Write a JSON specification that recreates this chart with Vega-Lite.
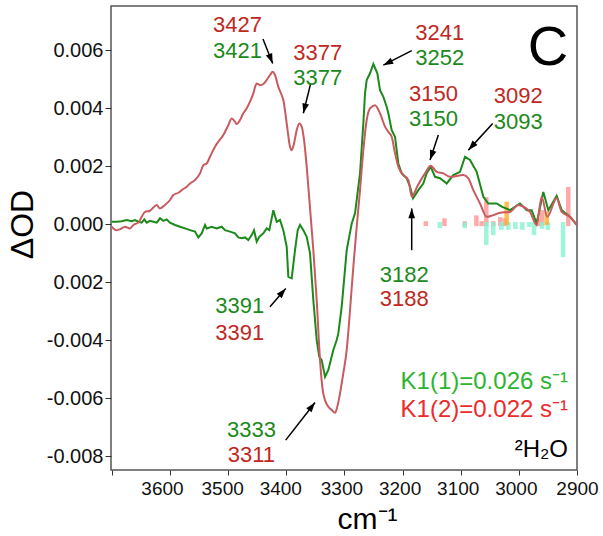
{
  "$schema": "https://vega.github.io/schema/vega-lite/v6.json",
  "width": 466,
  "height": 464,
  "autosize": {"type": "none"},
  "padding": {"left": 111, "top": 6, "right": 26, "bottom": 66},
  "background": "white",
  "config": {
    "view": {"stroke": "#555555", "strokeWidth": 1.5},
    "font": "Liberation Sans",
    "text": {"font": "Liberation Sans"}
  },
  "datasets": {
    "red": [
      {"wn":3700.3,"od":-0.00009},{"wn":3691.8,"od":-0.00021},{"wn":3686,"od":-0.00018},{"wn":3677.4,"od":-0.00009},{"wn":3668.8,"od":-0.00015},{"wn":3663.1,"od":-0.00003},{"wn":3654.5,"od":0.00005},{"wn":3648.7,"od":0.00025},{"wn":3643,"od":0.00042},{"wn":3634.4,"od":0.00046},{"wn":3628.7,"od":0.00057},{"wn":3622.9,"od":0.00066},{"wn":3617.2,"od":0.00054},{"wn":3608.6,"od":0.00066},{"wn":3600,"od":0.00083},{"wn":3594.3,"od":0.001},{"wn":3585.7,"od":0.00108},{"wn":3579.9,"od":0.00117},{"wn":3571.3,"od":0.00129},{"wn":3565.6,"od":0.0014},{"wn":3557,"od":0.00152},{"wn":3548.4,"od":0.00175},{"wn":3542.7,"od":0.00203},{"wn":3536.9,"od":0.00209},{"wn":3531.2,"od":0.00232},{"wn":3522.6,"od":0.00267},{"wn":3516.9,"od":0.00284},{"wn":3508.3,"od":0.00307},{"wn":3499.7,"od":0.00341},{"wn":3493.9,"od":0.00364},{"wn":3488.2,"od":0.00353},{"wn":3485.3,"od":0.00345},{"wn":3479.6,"od":0.00359},{"wn":3473.9,"od":0.00382},{"wn":3468.1,"od":0.00399},{"wn":3462.4,"od":0.00422},{"wn":3456.7,"od":0.00451},{"wn":3450.9,"od":0.00485},{"wn":3445.2,"od":0.00479},{"wn":3439.5,"od":0.00483},{"wn":3433.7,"od":0.00497},{"wn":3428,"od":0.00514},{"wn":3423.4,"od":0.00525},{"wn":3419.4,"od":0.00514},{"wn":3413.7,"od":0.00473},{"wn":3408,"od":0.00445},{"wn":3405.1,"od":0.00428},{"wn":3399.3,"od":0.00347},{"wn":3393.6,"od":0.00267},{"wn":3390.7,"od":0.00255},{"wn":3386.7,"od":0.00278},{"wn":3382.1,"od":0.00324},{"wn":3377.6,"od":0.00347},{"wn":3373.5,"od":0.00336},{"wn":3369.5,"od":0.0029},{"wn":3364.9,"od":0.00198},{"wn":3359.2,"od":0.00055},{"wn":3353.5,"od":-0.0009},{"wn":3347.7,"od":-0.00262},{"wn":3342,"od":-0.00469},{"wn":3337.4,"od":-0.00572},{"wn":3333.4,"od":-0.00607},{"wn":3327.7,"od":-0.0063},{"wn":3321.9,"od":-0.00641},{"wn":3316.2,"od":-0.00651},{"wn":3312.3,"od":-0.0063},{"wn":3307.6,"od":-0.00584},{"wn":3302,"od":-0.00515},{"wn":3296.1,"od":-0.00434},{"wn":3290.4,"od":-0.00297},{"wn":3284.7,"od":-0.00147},{"wn":3278.9,"od":-0.00009},{"wn":3273.2,"od":0.00117},{"wn":3267.5,"od":0.00255},{"wn":3261.7,"od":0.00359},{"wn":3256,"od":0.00399},{"wn":3247.4,"od":0.0041},{"wn":3238.8,"od":0.00382},{"wn":3230.2,"od":0.00336},{"wn":3224.5,"od":0.00318},{"wn":3218.7,"od":0.00301},{"wn":3213,"od":0.00244},{"wn":3207.3,"od":0.00198},{"wn":3198.7,"od":0.00169},{"wn":3190.1,"od":0.00152},{"wn":3184,"od":0.00094},{"wn":3175,"od":0.00129},{"wn":3161.4,"od":0.00175},{"wn":3151.6,"od":0.00201},{"wn":3141.3,"od":0.0018},{"wn":3129.9,"od":0.00175},{"wn":3118.4,"od":0.00163},{"wn":3095.5,"od":0.00169},{"wn":3086.9,"od":0.00158},{"wn":3078.3,"od":0.00117},{"wn":3066.8,"od":0.00071},{"wn":3055.3,"od":0.00025},{"wn":3043.9,"od":0.00031},{"wn":3032.4,"od":0.00039},{"wn":3015.2,"od":0.00042},{"wn":3001,"od":0.00066},{"wn":2992.4,"od":0.0006},{"wn":2980.9,"od":0.00042},{"wn":2969.4,"od":-0.00003},{"wn":2960.8,"od":0.00094},{"wn":2951.1,"od":0.00025},{"wn":2935,"od":0.00089},{"wn":2926.3,"od":0.00042},{"wn":2912,"od":0.00025},{"wn":2900.5,"od":-0.00003}
    ],
    "green": [
      {"wn":3700.3,"od":0.00008},{"wn":3691.7,"od":0.00008},{"wn":3683.1,"od":0.0001},{"wn":3674.5,"od":0.00014},{"wn":3665.9,"od":0.0001},{"wn":3660.2,"od":0.00014},{"wn":3654.5,"od":0.00008},{"wn":3648.7,"od":0.00005},{"wn":3644.2,"od":0.00016},{"wn":3640.1,"od":0.00005},{"wn":3634.4,"od":0.00011},{"wn":3628.7,"od":0.00008},{"wn":3622.9,"od":0.00005},{"wn":3617.2,"od":0.0002},{"wn":3611.5,"od":0.00011},{"wn":3605.7,"od":0.00016},{"wn":3600,"od":0.00005},{"wn":3591.4,"od":-0.00003},{"wn":3582.8,"od":-0.00009},{"wn":3574.2,"od":-0.00015},{"wn":3565.6,"od":-0.00021},{"wn":3557,"od":-0.00026},{"wn":3551.3,"od":-0.00046},{"wn":3545.5,"od":-0.00032},{"wn":3539.8,"od":-0.00003},{"wn":3536.9,"od":-0.00015},{"wn":3528.3,"od":-0.00009},{"wn":3519.7,"od":-0.00015},{"wn":3511.1,"od":-0.00009},{"wn":3505.4,"od":-0.00021},{"wn":3496.8,"od":-0.00026},{"wn":3488.2,"od":-0.00032},{"wn":3482.5,"od":-0.00046},{"wn":3476.7,"od":-0.00049},{"wn":3471,"od":-0.00046},{"wn":3465.3,"od":-0.00055},{"wn":3459.5,"od":-0.00038},{"wn":3455.5,"od":-0.00021},{"wn":3450.9,"od":-0.00061},{"wn":3446.4,"od":-0.00044},{"wn":3439.5,"od":-0.00032},{"wn":3433.7,"od":-0.00015},{"wn":3429.2,"od":-0.00021},{"wn":3422.3,"od":0.00048},{"wn":3416.5,"od":0.00008},{"wn":3410.8,"od":0.00014},{"wn":3405.1,"od":-0.00021},{"wn":3399.3,"od":-0.00078},{"wn":3396.5,"od":-0.00182},{"wn":3390.7,"od":-0.00187},{"wn":3385,"od":-0.0009},{"wn":3380.4,"od":-0.00021},{"wn":3376.4,"od":-0.00003},{"wn":3370.7,"od":-0.00021},{"wn":3364.9,"od":-0.00044},{"wn":3359.2,"od":-0.00101},{"wn":3353.5,"od":-0.00262},{"wn":3347.7,"od":-0.004},{"wn":3343.3,"od":-0.00458},{"wn":3339.1,"od":-0.00469},{"wn":3333.4,"od":-0.00527},{"wn":3327.7,"od":-0.00503},{"wn":3324.8,"od":-0.0048},{"wn":3319.1,"od":-0.00434},{"wn":3313.3,"od":-0.004},{"wn":3310.5,"od":-0.00377},{"wn":3304.7,"od":-0.00285},{"wn":3296.1,"od":-0.0009},{"wn":3287.5,"od":0.00002},{"wn":3281.8,"od":0.00037},{"wn":3273.2,"od":0.00175},{"wn":3267.5,"od":0.00347},{"wn":3264.6,"od":0.00451},{"wn":3261.7,"od":0.00497},{"wn":3256,"od":0.0052},{"wn":3250.3,"od":0.00552},{"wn":3243.4,"od":0.0052},{"wn":3238.8,"od":0.00462},{"wn":3233.1,"od":0.00439},{"wn":3227.3,"od":0.00404},{"wn":3224.5,"od":0.00382},{"wn":3218.7,"od":0.00324},{"wn":3213,"od":0.00301},{"wn":3207.3,"od":0.00209},{"wn":3201.5,"od":0.00175},{"wn":3192.9,"od":0.00158},{"wn":3187.2,"od":0.00129},{"wn":3182,"od":0.00089},{"wn":3172.9,"od":0.00117},{"wn":3164.4,"od":0.0014},{"wn":3158.6,"od":0.00175},{"wn":3151.6,"od":0.00198},{"wn":3144.2,"od":0.00163},{"wn":3135.6,"od":0.00158},{"wn":3124.1,"od":0.0014},{"wn":3112.7,"od":0.00169},{"wn":3101.2,"od":0.0018},{"wn":3092.6,"od":0.00232},{"wn":3084,"od":0.00221},{"wn":3072.5,"od":0.0018},{"wn":3061.1,"od":0.00094},{"wn":3052.5,"od":0.00071},{"wn":3038.1,"od":0.00071},{"wn":3029.5,"od":0.0006},{"wn":3015.2,"od":0.00048},{"wn":2998,"od":0.00071},{"wn":2986.5,"od":0.00048},{"wn":2977.9,"od":0.00048},{"wn":2969.4,"od":0.00002},{"wn":2957.9,"od":0.00111},{"wn":2949.3,"od":0.00048},{"wn":2935,"od":0.00097},{"wn":2926.3,"od":0.00048},{"wn":2912,"od":0.00025},{"wn":2900.5,"od":-0.00003}
    ],
    "bars": [
      {"wn":3160,"od":0.0001,"od2":-0.00007,"kind":"pink"},
      {"wn":3128,"od":0.0002,"od2":-0.00007,"kind":"pink"},
      {"wn":3093,"od":0.0001,"od2":-0.00007,"kind":"pink"},
      {"wn":3073,"od":0.0003,"od2":-0.00007,"kind":"pink"},
      {"wn":3064,"od":0.0001,"od2":-0.00007,"kind":"pink"},
      {"wn":3056,"od":0.00093,"od2":-0.00007,"kind":"pink"},
      {"wn":3044,"od":0.0001,"od2":-0.00007,"kind":"pink"},
      {"wn":3032,"od":0.00024,"od2":-0.00007,"kind":"pink"},
      {"wn":3024,"od":0.0002,"od2":-0.00007,"kind":"pink"},
      {"wn":2967,"od":0.0002,"od2":-0.00007,"kind":"pink"},
      {"wn":2960,"od":0.00048,"od2":-0.00007,"kind":"pink"},
      {"wn":2915,"od":0.00128,"od2":-0.00007,"kind":"pink"},
      {"wn":3136,"od":-0.00014,"od2":0.00007,"kind":"mint"},
      {"wn":3093,"od":-0.00014,"od2":0.00007,"kind":"mint"},
      {"wn":3056,"od":-0.00072,"od2":0.00007,"kind":"mint"},
      {"wn":3044,"od":-0.00038,"od2":0.00007,"kind":"mint"},
      {"wn":3030,"od":-0.0002,"od2":0.00007,"kind":"mint"},
      {"wn":3018,"od":-0.0002,"od2":0.00007,"kind":"mint"},
      {"wn":3006,"od":-0.00017,"od2":0.00007,"kind":"mint"},
      {"wn":2994,"od":-0.0002,"od2":0.00007,"kind":"mint"},
      {"wn":2982,"od":-0.0001,"od2":0.00007,"kind":"mint"},
      {"wn":2974,"od":-0.00038,"od2":0.00007,"kind":"mint"},
      {"wn":2960,"od":-0.00017,"od2":0.00007,"kind":"mint"},
      {"wn":2950,"od":-0.0002,"od2":0.00007,"kind":"mint"},
      {"wn":2924,"od":-0.00114,"od2":0.00007,"kind":"mint"},
      {"wn":3021,"od":0.00077,"od2":-0.00003,"kind":"orange"},
      {"wn":2952,"od":0.00042,"od2":-0.00003,"kind":"orange"}
    ],
    "arrows": [
      {"wn":3440.1,"od":0.00638,"wn2":3423.4,"od2":0.00554},
      {"wn":3358,"od":0.00485,"wn2":3370.7,"od2":0.00382},
      {"wn":3184.3,"od":0.00598,"wn2":3233.1,"od2":0.00548},
      {"wn":3138.5,"od":0.00307,"wn2":3152.8,"od2":0.00221},
      {"wn":3045,"od":0.00347,"wn2":3086.9,"od2":0.00255},
      {"wn":3184.3,"od":-0.0009,"wn2":3184.3,"od2":0.00054},
      {"wn":3428,"od":-0.00285,"wn2":3401,"od2":-0.00222},
      {"wn":3401,"od":-0.00745,"wn2":3350.6,"od2":-0.00615}
    ],
    "labels": [
      {"wn":3484,"od":0.00688,"text":"3427","col":"r","kind":"peak"},
      {"wn":3484,"od":0.00598,"text":"3421","col":"g","kind":"peak"},
      {"wn":3346,"od":0.00591,"text":"3377","col":"r","kind":"peak"},
      {"wn":3346,"od":0.00505,"text":"3377","col":"g","kind":"peak"},
      {"wn":3136,"od":0.0066,"text":"3241","col":"r","kind":"peak"},
      {"wn":3136,"od":0.00574,"text":"3252","col":"g","kind":"peak"},
      {"wn":3147,"od":0.0045,"text":"3150","col":"r","kind":"peak"},
      {"wn":3147,"od":0.00364,"text":"3150","col":"g","kind":"peak"},
      {"wn":3001,"od":0.0044,"text":"3092","col":"r","kind":"peak"},
      {"wn":3001,"od":0.00353,"text":"3093","col":"g","kind":"peak"},
      {"wn":3197,"od":-0.00174,"text":"3182","col":"g","kind":"peak"},
      {"wn":3197,"od":-0.0026,"text":"3188","col":"r","kind":"peak"},
      {"wn":3480,"od":-0.00284,"text":"3391","col":"g","kind":"peak"},
      {"wn":3480,"od":-0.00374,"text":"3391","col":"r","kind":"peak"},
      {"wn":3460,"od":-0.00709,"text":"3333","col":"g","kind":"peak"},
      {"wn":3460,"od":-0.00797,"text":"3311","col":"r","kind":"peak"},
      {"wn":2915.5,"od":-0.00543,"text":"K1(1)=0.026 s⁻¹","col":"kg","kind":"note"},
      {"wn":2915.5,"od":-0.00641,"text":"K1(2)=0.022 s⁻¹","col":"kr","kind":"note"},
      {"wn":2915.5,"od":-0.00779,"text":"²H₂O","col":"k","kind":"note"},
      {"wn":2950,"od":0.00607,"text":"C","col":"k","kind":"panel"}
    ]
  },
  "encoding": {
    "x": {
      "field": "wn", "type": "quantitative",
      "scale": {"domain": [2900, 3701.5], "reverse": true, "nice": false, "zero": false},
      "axis": {
        "title": "cm⁻¹",
        "values": [3700, 3600, 3500, 3400, 3300, 3200, 3100, 3000, 2900],
        "labelExpr": "datum.value > 3650 ? '' : format(datum.value, 'd')",
        "labelOverlap": false, "labelBound": false, "labelFlush": false,
        "labelFontSize": 19, "labelColor": "#111111", "labelFont": "Liberation Sans",
        "tickSize": 5, "tickColor": "#333333", "labelPadding": 4,
        "labelOffset": {"condition": [{"test": "datum.value > 3550", "value": -8}, {"test": "datum.value > 3350", "value": -6}, {"test": "datum.value > 2950", "value": -3}], "value": 0},
        "domain": false, "grid": false,
        "titleFont": "Liberation Sans", "titleFontSize": 30, "titleFontWeight": "normal", "titleColor": "#000000",
        "titleX": 256, "titleY": 58, "titleAlign": "center", "titleBaseline": "alphabetic"
      }
    },
    "y": {
      "field": "od", "type": "quantitative",
      "scale": {"domain": [-0.00848, 0.00752], "nice": false, "zero": false},
      "axis": {
        "title": "ΔOD",
        "values": [-0.008, -0.006, -0.004, -0.002, 0, 0.002, 0.004, 0.006],
        "labelExpr": "datum.value < -0.0015 && datum.value > -0.0025 ? '0.002' : (datum.value < -0.0001 ? '-' : '') + format(abs(datum.value), '.3f')",
        "labelOverlap": false,
        "labelFontSize": 20, "labelColor": "#111111", "labelFont": "Liberation Sans",
        "tickSize": 6, "tickColor": "#333333", "labelPadding": 2,
        "domain": false, "grid": false,
        "titleFont": "Liberation Sans", "titleFontSize": 32, "titleFontWeight": "normal", "titleColor": "#000000",
        "titleX": -89, "titleY": 218, "titleAngle": -90, "titleAlign": "center", "titleBaseline": "middle"
      }
    }
  },
  "layer": [
    {
      "data": {"name": "bars"},
      "mark": {"type": "rule", "strokeWidth": 4.5, "opacity": 0.8},
      "encoding": {
        "y2": {"field": "od2"},
        "color": {"field": "kind", "type": "nominal", "legend": null,
          "scale": {"domain": ["pink", "mint", "orange"], "range": ["#ff9393", "#86f2cf", "#ffad2a"]}}
      }
    },
    {
      "data": {"name": "green"},
      "mark": {"type": "line", "color": "#1b8a1b", "strokeWidth": 2},
      "encoding": {}
    },
    {
      "data": {"name": "red"},
      "mark": {"type": "line", "color": "#c95a5f", "strokeWidth": 2, "interpolate": "monotone"},
      "encoding": {}
    },
    {
      "data": {"name": "arrows"},
      "mark": {"type": "rule", "color": "#000000", "strokeWidth": 1.5},
      "encoding": {"x2": {"field": "wn2"}, "y2": {"field": "od2"}}
    },
    {
      "data": {"name": "arrows"},
      "transform": [{"calculate": "atan2((datum.wn - datum.wn2) * 0.5814, (datum.od2 - datum.od) * 29000) * 180 / PI", "as": "ang"}],
      "mark": {"type": "point", "shape": "M0,0L0.75,2.2L-0.75,2.2Z", "filled": true, "color": "#000000", "opacity": 1, "size": 81, "strokeWidth": 0},
      "encoding": {
        "x": {"field": "wn2", "type": "quantitative"},
        "y": {"field": "od2", "type": "quantitative"},
        "angle": {"field": "ang", "type": "quantitative", "scale": null}
      }
    },
    {
      "data": {"name": "labels"},
      "transform": [{"filter": "datum.kind == 'peak'"}],
      "mark": {"type": "text", "fontSize": 22, "align": "center", "baseline": "middle", "font": "Liberation Sans"},
      "encoding": {
        "text": {"field": "text"},
        "color": {"field": "col", "type": "nominal", "legend": null,
          "scale": {"domain": ["r", "g"], "range": ["#c0281e", "#1b8a1b"]}}
      }
    },
    {
      "data": {"name": "labels"},
      "transform": [{"filter": "datum.kind == 'note'"}],
      "mark": {"type": "text", "fontSize": 24, "align": "right", "baseline": "middle", "font": "Liberation Sans"},
      "encoding": {
        "text": {"field": "text"},
        "color": {"field": "col", "type": "nominal", "legend": null,
          "scale": {"domain": ["kg", "kr", "k"], "range": ["#2db52d", "#ee2a2a", "#000000"]}}
      }
    },
    {
      "data": {"name": "labels"},
      "transform": [{"filter": "datum.kind == 'panel'"}],
      "mark": {"type": "text", "fontSize": 56, "align": "center", "baseline": "middle", "font": "Liberation Sans", "color": "#000000"},
      "encoding": {"text": {"field": "text"}}
    }
  ],
  "resolve": {"scale": {"color": "independent"}}
}
